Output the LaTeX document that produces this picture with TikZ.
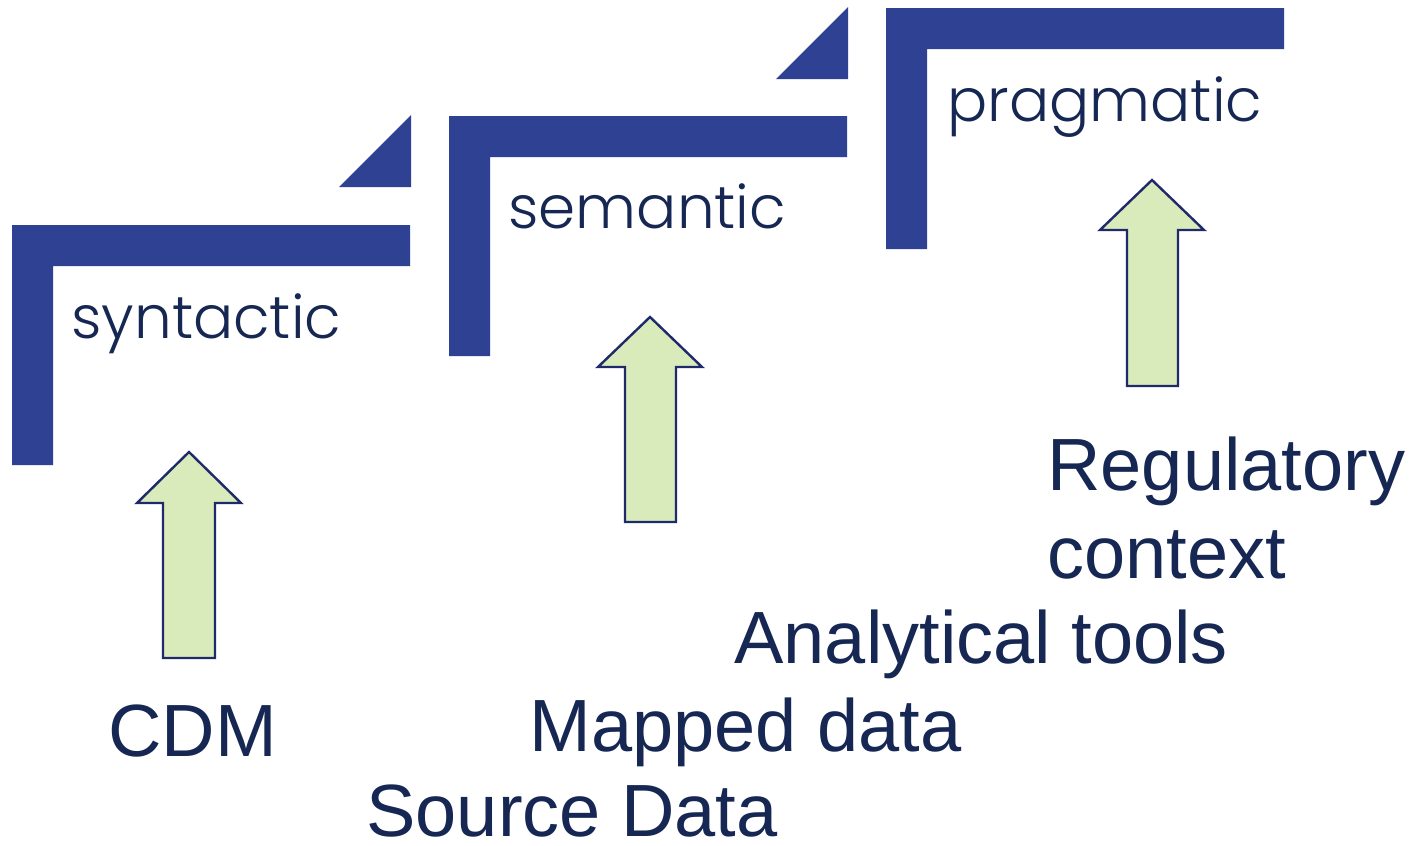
\documentclass[tikz,border=0pt]{standalone}
\usepackage{fontspec}
\setmainfont{Liberation Sans}
\IfFontExistsTF{Poppins Light}
  {\newfontfamily\stepfont{Poppins Light}}
  {\newfontfamily\stepfont{Poppins}}
\definecolor{stepblue}{HTML}{2E4192}
\definecolor{inknavy}{HTML}{152752}
\definecolor{arrowfill}{HTML}{D9EBBA}
\definecolor{arrowline}{HTML}{1E2A6A}
\tikzset{
  stepbar/.style={fill=stepblue, draw=none},
  upshaft/.style={fill=arrowfill, draw=arrowline, line width=1.2pt, line join=miter},
  steplabel/.style={anchor=base west, inner sep=0pt, text=inknavy, font=\stepfont\fontsize{29.8}{34}\selectfont},
  itemlabel/.style={anchor=base west, inner sep=0pt, text=inknavy, font=\fontsize{37}{44}\selectfont, align=left},
}
\begin{document}
\begin{tikzpicture}[x=0.5pt, y=-0.5pt]
\useasboundingbox (0,0) rectangle (1414,846);
\fill[white] (0,0) rectangle (1414,846);

% stair steps: L-shaped brackets with a wedge above each riser
\fill[stepbar] (12,225) -- (410,225) -- (410,266) -- (53,266) -- (53,465) -- (12,465) -- cycle;
\fill[stepbar] (339,187) -- (411,115) -- (411,187) -- cycle;
\fill[stepbar] (449,116) -- (847,116) -- (847,157) -- (490,157) -- (490,356) -- (449,356) -- cycle;
\fill[stepbar] (776,79) -- (848,7) -- (848,79) -- cycle;
\fill[stepbar] (886,8) -- (1284,8) -- (1284,49) -- (927,49) -- (927,249) -- (886,249) -- cycle;

% level names
\node[steplabel] (syn) at (71,338) {syntactic};
\node[steplabel] (sem) at (508,228) {semantic};
\node[steplabel] (prag) at (947,121) {pragmatic};

% upward block arrows
\draw[upshaft] (189,452) -- (241,503) -- (215,503) -- (215,658) -- (163,658) -- (163,503) -- (137,503) -- cycle;
\draw[upshaft] (650,317) -- (702,367) -- (676,367) -- (676,522) -- (625,522) -- (625,367) -- (598,367) -- cycle;
\draw[upshaft] (1152,180) -- (1204,230) -- (1178,230) -- (1178,386) -- (1127,386) -- (1127,230) -- (1100,230) -- cycle;

% inputs feeding each level
\node[itemlabel] (cdm) at (108,756) {CDM};
\node[itemlabel, text depth=0pt] (src) at (366,836) {Source Data};
\node[itemlabel] (map) at (529,751) {Mapped data};
\node[itemlabel] (ana) at (734,663) {Analytical tools};
\node[itemlabel] (reg) at (1047,490) {Regulatory};
\node[itemlabel] (ctx) at (1047,578) {context};
\end{tikzpicture}
\end{document}
